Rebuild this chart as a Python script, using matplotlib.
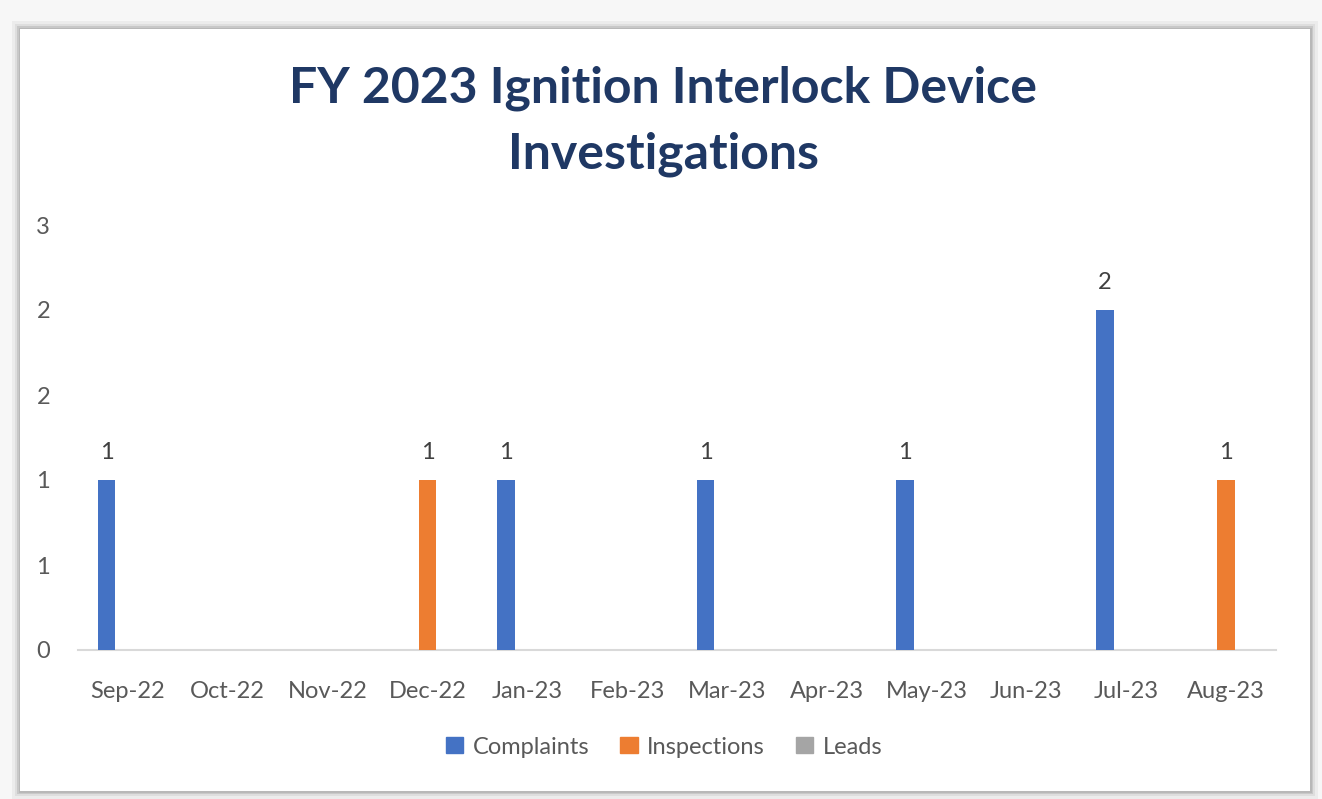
import matplotlib.pyplot as plt
import matplotlib.patches as mpatches
import numpy as np

months = ["Sep-22", "Oct-22", "Nov-22", "Dec-22", "Jan-23", "Feb-23",
          "Mar-23", "Apr-23", "May-23", "Jun-23", "Jul-23", "Aug-23"]
complaints = [1, np.nan, np.nan, np.nan, 1, np.nan, 1, np.nan, 1, np.nan, 2, np.nan]
inspections = [np.nan, np.nan, np.nan, 1, np.nan, np.nan, np.nan, np.nan, np.nan, np.nan, np.nan, 1]
leads = [np.nan] * 12
series_names = ["Complaints", "Inspections", "Leads"]
colors = ["#4472c4", "#ed7d31", "#a5a5a5"]

W, H = 1322, 799
plt.rcParams['font.family'] = ['Lato', 'DejaVu Sans']

fig = plt.figure(figsize=(W / 100, H / 100), dpi=100)
fig.patch.set_facecolor("#f7f7f7")

# shadow / frame around the chart area
for pad, col in [(8, "#ececec"), (5, "#dedede"), (3, "#c8c8c8"), (1.5, "#b8b8b8")]:
    fig.patches.append(mpatches.Rectangle(
        ((20 - pad) / W, 1 - (791 + pad) / H), (1290 + 2 * pad) / W, (762 + 2 * pad) / H,
        transform=fig.transFigure, facecolor=col, edgecolor="none", zorder=-2))
fig.patches.append(mpatches.Rectangle(
    (20 / W, 1 - 791 / H), 1290 / W, 762 / H,
    transform=fig.transFigure, facecolor="white", edgecolor="none", zorder=-1))

ax = fig.add_axes([78 / W, 1 - 650 / H, 1198 / W, 425 / H])
ax.set_facecolor("none")

x = np.arange(len(months))
width = 0.175
step = 0.215
for i, (vals, name, col) in enumerate(zip([complaints, inspections, leads], series_names, colors)):
    pos = x + (i - 1) * step
    ax.bar(pos, np.nan_to_num(vals), width=width, color=col, label=name, zorder=2)
    for p, v in zip(pos, vals):
        if not np.isnan(v):
            ax.annotate(f"{v:.0f}", (p, v), xytext=(0, 20), textcoords="offset points",
                        ha="center", va="center", fontsize=17, color="#404040")

ax.set_xlim(-0.5, len(months) - 0.5)
ax.set_ylim(0, 2.5)
yt = [0, 0.5, 1, 1.5, 2, 2.5]
ax.set_yticks(yt)
ax.set_yticklabels(["0", "1", "1", "2", "2", "3"])
ax.set_xticks(x)
ax.set_xticklabels(months)
ax.tick_params(axis="both", length=0, labelsize=17, labelcolor="#595959")
ax.tick_params(axis="x", pad=22)
ax.tick_params(axis="y", pad=20)
for s in ["top", "right", "left"]:
    ax.spines[s].set_visible(False)
ax.spines["bottom"].set_color("#d9d9d9")
ax.spines["bottom"].set_linewidth(1.5)
ax.spines["bottom"].set_zorder(1)

fig.text(663 / W, 1 - 121 / H, "FY 2023 Ignition Interlock Device\nInvestigations",
         ha="center", va="center", fontsize=36, fontweight="bold",
         color="#1f3864", linespacing=1.55)

handles = [mpatches.Patch(color=c, label=n) for c, n in zip(colors, series_names)]
fig.legend(handles=handles, loc="center", bbox_to_anchor=(664 / W, 1 - 747 / H),
           ncol=3, frameon=False, fontsize=17, labelcolor="#595959",
           handlelength=0.75, handleheight=0.65, handletextpad=0.4, columnspacing=1.3)

fig.savefig("out.png", dpi=100)
